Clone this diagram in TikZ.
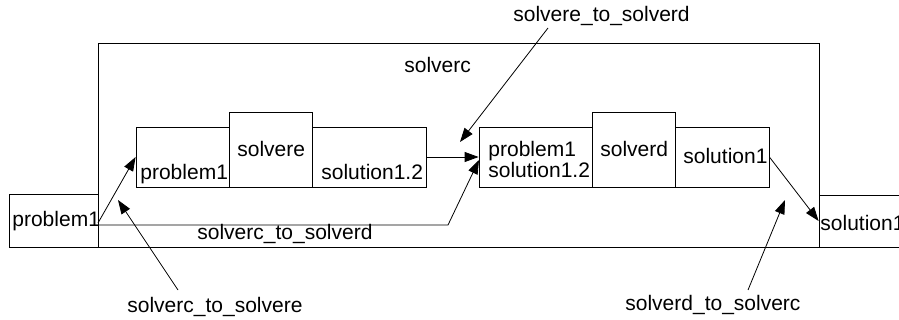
\documentclass[tikz,border=0pt]{standalone}
\usepackage{fontspec}
\setmainfont{Liberation Sans}
\usetikzlibrary{arrows.meta}
\begin{document}
\begin{tikzpicture}[x=1pt,y=-1pt,
  line width=0.8pt,
  box/.style={draw, inner sep=0pt, rectangle},
  lbl/.style={anchor=base west, inner sep=0pt, font=\fontsize{21}{25}\selectfont},
  arr/.style={-{Triangle[length=14pt,width=10pt]}}]
\useasboundingbox (0,0) rectangle (899,320);

% composite solver and its external ports
\node[box, minimum width=721pt, minimum height=204pt] (solverc) at (458.5,145) {};
\node[box, minimum width=89pt, minimum height=53pt] (inP) at (53.5,220.5) {};
\node[box, minimum width=91pt, minimum height=52pt] (outS) at (864.5,221) {};

% solvere component
\node[box, minimum width=93pt, minimum height=60pt] (eP) at (182.5,157) {};
\node[box, minimum width=83pt, minimum height=75pt] (eS) at (270.5,149.5) {};
\node[box, minimum width=114pt, minimum height=60pt] (eO) at (369,157) {};

% solverd component
\node[box, minimum width=113pt, minimum height=60pt] (dP) at (535.5,157) {};
\node[box, minimum width=83pt, minimum height=75pt] (dS) at (633.5,149.5) {};
\node[box, minimum width=94pt, minimum height=60pt] (dO) at (722,157) {};

% texts
\node[lbl] (tC) at (404,73) {solverc};
\node[lbl] (tInP) at (12,227) {problem1};
\node[lbl] (tEP) at (140,180) {problem1};
\node[lbl] (tES) at (237,157) {solvere};
\node[lbl] (tEO) at (321,180) {solution1.2};
\node[lbl] (tDP1) at (488,157) {problem1};
\node[lbl] (tDP2) at (488,178) {solution1.2};
\node[lbl] (tDS) at (600,157) {solverd};
\node[lbl] (tDO) at (683,164) {solution1};
\node[lbl] (tOutS) at (820,231) {solution1};
\node[lbl] (tCD) at (197,240) {solverc\_to\_solverd};
\node[lbl] (tED) at (513,22) {solvere\_to\_solverd};
\node[lbl] (tCE) at (127,312) {solverc\_to\_solvere};
\node[lbl] (tDC) at (625,310) {solverd\_to\_solverc};

% port points of the connections
\coordinate (inA) at (98,223);
\coordinate (inB) at (98,225);
\coordinate (bend) at (448,225);
\coordinate (dPin) at (479,160);
\coordinate (edStart) at (548,28);
\coordinate (edTip) at (460,142);
\coordinate (ceStart) at (178,290);
\coordinate (ceTip) at (118,200);
\coordinate (dcStart) at (748,290);
\coordinate (dcTip) at (785,200);

% data connections
\draw[arr] (inA) -- (eP.west);
\draw[arr] (inB) -- (bend) -- (dPin);
\draw[arr] (eO.east) -- (dP.west);
\draw[arr] (dO.east) -- (outS.west);

% connection name pointers
\draw[arr] (edStart) -- (edTip);
\draw[arr] (ceStart) -- (ceTip);
\draw[arr] (dcStart) -- (dcTip);
\end{tikzpicture}
\end{document}
